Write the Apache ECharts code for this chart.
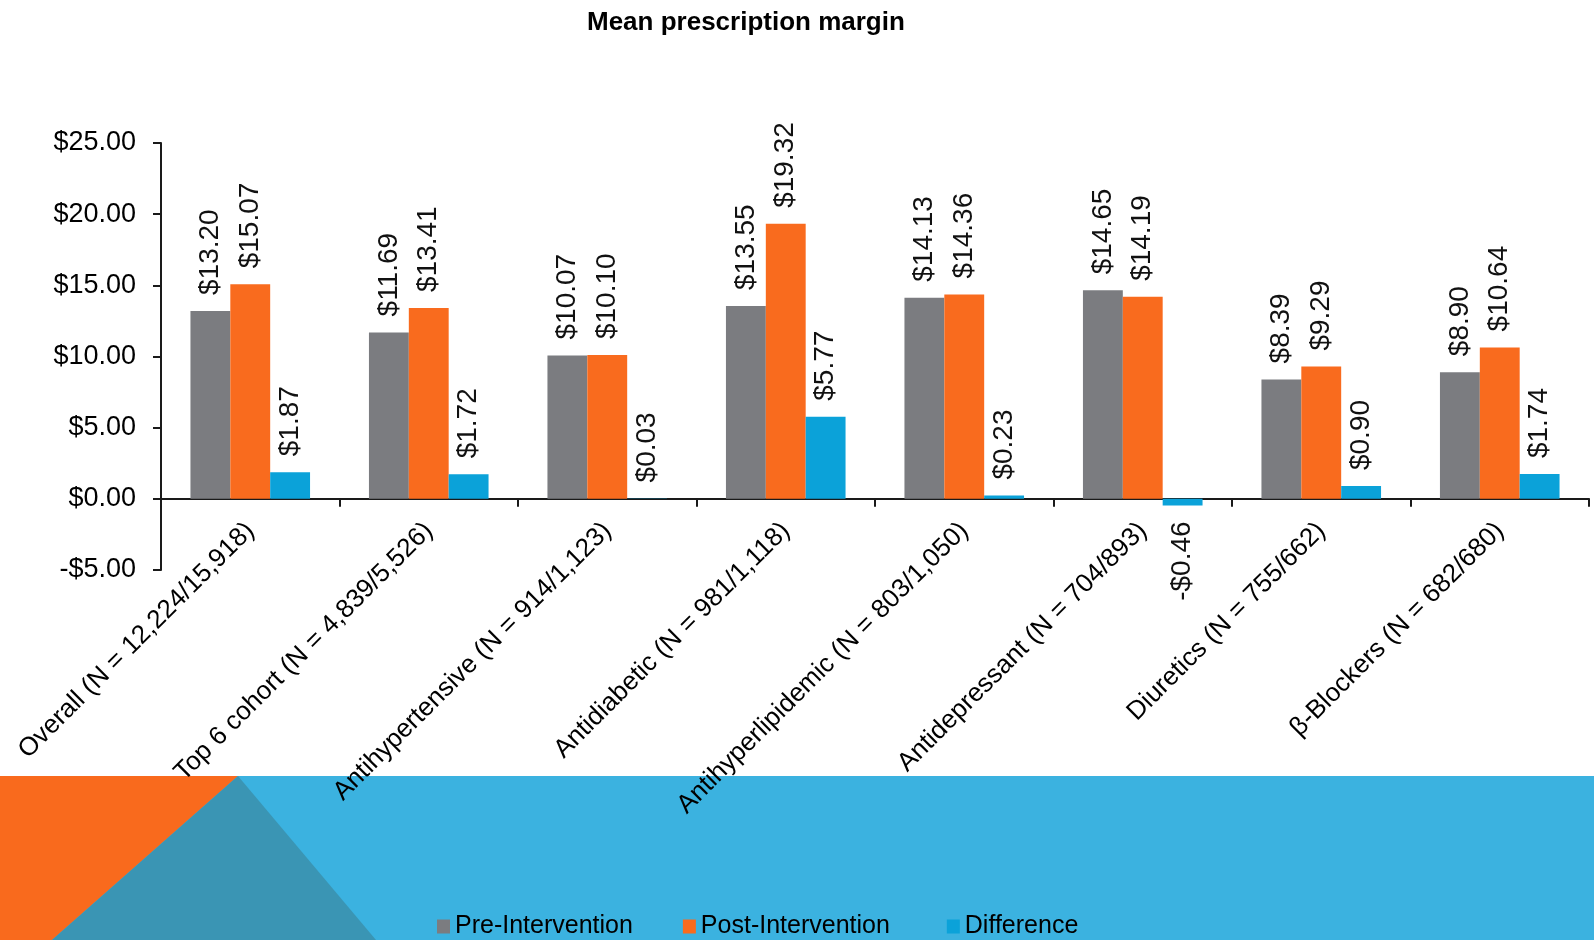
<!DOCTYPE html>
<html>
<head>
<meta charset="utf-8">
<title>Mean prescription margin</title>
<script src="https://cdn.jsdelivr.net/npm/echarts@6/dist/echarts.min.js"></script>
<style>
  html, body { margin: 0; padding: 0; background: #ffffff; }
  #chart { width: 1594px; height: 940px; }
</style>
</head>
<body>
<div id="chart"></div>
<script>
// Drug-class cohorts with pre/post patient counts
const categories = [
  'Overall (N = 12,224/15,918)',
  'Top 6 cohort (N = 4,839/5,526)',
  'Antihypertensive (N = 914/1,123)',
  'Antidiabetic (N = 981/1,118)',
  'Antihyperlipidemic (N = 803/1,050)',
  'Antidepressant (N = 704/893)',
  'Diuretics (N = 755/662)',
  'β-Blockers (N = 682/680)'
];

// Mean prescription margin in dollars
const preIntervention  = [13.20, 11.69, 10.07, 13.55, 14.13, 14.65, 8.39, 8.90];
const postIntervention = [15.07, 13.41, 10.10, 19.32, 14.36, 14.19, 9.29, 10.64];
const difference       = [1.87, 1.72, 0.03, 5.77, 0.23, -0.46, 0.90, 1.74];

const seriesNames = ['Pre-Intervention', 'Post-Intervention', 'Difference'];

// Value axis range and step
const yMin = -5;
const yMax = 25;
const yStep = 5;

const FONT = '"Liberation Sans", Arial, sans-serif';

// Plot area edges in pixels
const GRID = { left: 161, right: 5, top: 143, bottom: 370 };
const CHART_H = 940;
// Lift the category axis from the bottom of the grid up to the zero line
const plotH = CHART_H - GRID.top - GRID.bottom;
const zeroLift = plotH * (0 - yMin) / (yMax - yMin);

function money(v) {
  const s = '$' + Math.abs(v).toFixed(2);
  return v < 0 ? '-' + s : s;
}

// Bars above zero carry their label above; bars below zero carry it beneath.
function withLabels(values) {
  return values.map(v => {
    if (v < 0) {
      return { value: v, label: { position: 'bottom', align: 'right' } };
    }
    return v;
  });
}

const labelStyle = {
  show: true,
  position: 'top',
  rotate: 90,
  align: 'left',
  verticalAlign: 'middle',
  distance: 16,
  fontFamily: FONT,
  fontSize: 28,
  color: '#111',
  formatter: p => money(p.value)
};

const colors = ['#7b7c80', '#f96b1e', '#0ba2d9'];

const chart = echarts.init(document.getElementById('chart'), null, { renderer: 'canvas' });

chart.setOption({
  animation: false,
  backgroundColor: '#ffffff',
  color: colors,
  title: {
    text: 'Mean prescription margin',
    left: 582,
    top: 5,
    textStyle: { fontFamily: FONT, fontSize: 26, fontWeight: 'bold', color: '#000' }
  },
  graphic: [
    { type: 'rect', z: -100, silent: true,
      shape: { x: 0, y: 776, width: 1594, height: 164 },
      style: { fill: '#3bb2e0' } },
    { type: 'polygon', z: -99, silent: true,
      shape: { points: [[0, 776], [238, 776], [52, 940], [0, 940]] },
      style: { fill: '#f96a1d' } },
    { type: 'polygon', z: -98, silent: true,
      shape: { points: [[238, 776], [52, 940], [376, 940]] },
      style: { fill: '#3a95b4' } }
  ],
  legend: {
    data: seriesNames,
    // a little extra room after the middle entry
    formatter: name => (name === seriesNames[1] ? name + ' ' : name),
    left: 432,
    top: 909,
    icon: 'rect',
    itemWidth: 13,
    itemHeight: 14,
    itemGap: 50,
    textStyle: { fontFamily: FONT, fontSize: 25, color: '#000' }
  },
  grid: {
    left: GRID.left,
    right: GRID.right,
    top: GRID.top,
    bottom: GRID.bottom,
    containLabel: false
  },
  xAxis: {
    type: 'category',
    data: categories,
    position: 'bottom',
    offset: -zeroLift,
    axisLine: { onZero: false, lineStyle: { color: '#1a1a1a', width: 2 } },
    axisTick: { show: true, length: 8, alignWithLabel: false, lineStyle: { color: '#1a1a1a', width: 2 } },
    axisLabel: {
      interval: 0,
      rotate: 45,
      margin: 28,
      verticalAlign: 'middle',
      fontFamily: FONT,
      fontSize: 26,
      color: '#000'
    },
    splitLine: { show: false }
  },
  yAxis: {
    type: 'value',
    min: yMin,
    max: yMax,
    interval: yStep,
    axisLine: { show: true, lineStyle: { color: '#1a1a1a', width: 2 } },
    axisTick: { show: true, length: 8, lineStyle: { color: '#1a1a1a', width: 2 } },
    axisLabel: {
      margin: 25,
      fontFamily: FONT,
      fontSize: 27,
      color: '#000',
      formatter: v => money(v)
    },
    splitLine: { show: false }
  },
  series: [
    { name: seriesNames[0], type: 'bar', data: withLabels(preIntervention),
      barGap: '0%', barCategoryGap: '33%', label: labelStyle },
    { name: seriesNames[1], type: 'bar', data: withLabels(postIntervention),
      barGap: '0%', barCategoryGap: '33%', label: labelStyle },
    { name: seriesNames[2], type: 'bar', data: withLabels(difference),
      barGap: '0%', barCategoryGap: '33%', label: labelStyle }
  ]
});
</script>
</body>
</html>
